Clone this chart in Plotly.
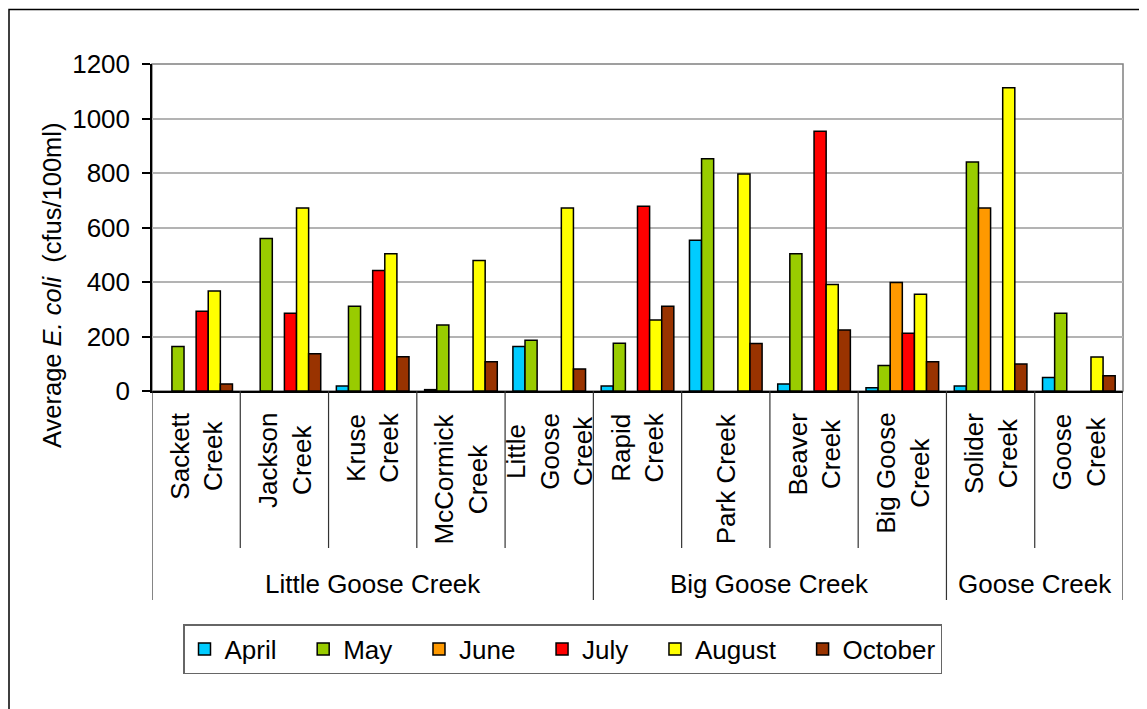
import plotly.graph_objects as go

categories = ["Sackett Creek", "Jackson Creek", "Kruse Creek", "McCormick Creek",
              "Little Goose Creek", "Rapid Creek", "Park Creek", "Beaver Creek",
              "Big Goose Creek", "Solider Creek", "Goose Creek"]
cat_labels = ["Sackett<br>Creek", "Jackson<br>Creek", "Kruse<br>Creek", "McCormick<br>Creek",
              "Little<br>Goose<br>Creek", "Rapid<br>Creek", "Park Creek", "Beaver<br>Creek",
              "Big Goose<br>Creek", "Solider<br>Creek", "Goose<br>Creek"]
groups = ["Little Goose Creek", "Big Goose Creek", "Goose Creek"]
group_sizes = [5, 4, 2]

months = ["April", "May", "June", "July", "August", "October"]
april   = [None, None, 18, 5, 163, 18, 553, 26, 12, 18, 50]
may     = [163, 560, 311, 242, 186, 175, 852, 504, 94, 840, 285]
june    = [None, None, None, None, None, None, None, None, 398, 672, None]
july    = [293, 285, 442, None, None, 678, None, 953, 212, None, None]
august  = [367, 672, 504, 479, 672, 261, 796, 391, 355, 1113, 125]
october = [26, 137, 126, 107, 81, 311, 174, 224, 107, 99, 56]
series = [april, may, june, july, august, october]
colors = ["#00CCFF", "#99CC00", "#FF9900", "#FF0000", "#FFFF00", "#993300"]

y_ticks = [0, 200, 400, 600, 800, 1000, 1200]

FONT = "Liberation Sans, Arial, sans-serif"
OFF = 8  # page body margin
W, H = 1147 - OFF, 709 - OFF
# plot area in page pixels: x 152..1123, y 64..391
L, T = 152 - OFF, 64 - OFF
R = W - (1123 - OFF)
B = H - (391 - OFF)
PW, PH = W - L - R, H - T - B


def px_x(p):
    return (p - OFF - L) / PW


def px_y(p):
    return (H - B - (p - OFF)) / PH


fig = go.Figure()
pad = "\u00a0\u00a0\u00a0"
for i, (m, vals, c) in enumerate(zip(months, series, colors)):
    fig.add_trace(go.Bar(
        x=categories, y=vals, name=m + (pad if i < len(months) - 1 else ""),
        marker=dict(color=c, line=dict(color="black", width=1.5)),
    ))

shapes = []
# outer chart border
shapes.append(dict(type="rect", xref="paper", yref="paper",
                   x0=px_x(9), x1=px_x(1160), y0=px_y(720), y1=px_y(9.5),
                   line=dict(color="black", width=1.5), layer="below"))
# plot area border
shapes.append(dict(type="rect", xref="paper", yref="paper", x0=0, x1=1, y0=0, y1=1,
                   line=dict(color="#808080", width=1.5), layer="below"))
# separators
group_edges = [-0.5]
acc = -0.5
for s in group_sizes:
    acc += s
    group_edges.append(acc)
for k in range(len(categories) + 1):
    xe = k - 0.5
    y1 = px_y(600) if xe in group_edges else px_y(548)
    shapes.append(dict(type="line", xref="x", yref="paper", x0=xe, x1=xe, y0=0, y1=y1,
                       line=dict(color="#333333", width=1.2)))

annotations = []
for c, lab in zip(categories, cat_labels):
    annotations.append(dict(x=c, xref="x", y=px_y(411), yref="paper", text=lab,
                            showarrow=False, textangle=-90, xanchor="center", yanchor="top",
                            align="center", font=dict(size=26, color="black", family=FONT)))
start = 0
for g, s in zip(groups, group_sizes):
    center = start + (s - 1) / 2
    annotations.append(dict(x=center, xref="x", y=px_y(584), yref="paper", text=g,
                            showarrow=False, xanchor="center", yanchor="middle",
                            font=dict(size=26, color="black", family=FONT)))
    start += s
annotations.append(dict(x=px_x(52), xref="paper", y=px_y(285), yref="paper",
                        text="Average <i>E. coli</i>  (cfus/100ml)", showarrow=False,
                        textangle=-90, xanchor="center", yanchor="middle",
                        font=dict(size=25.5, color="black", family=FONT)))

fig.update_layout(
    width=W, height=H,
    margin=dict(l=L, r=R, t=T, b=B, pad=0),
    paper_bgcolor="white", plot_bgcolor="white",
    barmode="group", bargap=0.177, bargroupgap=0,
    font=dict(family=FONT, size=26, color="black"),
    showlegend=True,
    legend=dict(orientation="h", x=px_x(183), y=px_y(624), xanchor="left", yanchor="top",
                bordercolor="#666666", borderwidth=1.5, bgcolor="white",
                font=dict(size=26, family=FONT, color="black"), traceorder="normal"),
    shapes=shapes, annotations=annotations,
    hovermode=False,
)
fig.update_xaxes(range=[-0.5, len(categories) - 0.5], showticklabels=False, ticks="",
                 showline=True, linecolor="black", linewidth=1.5, showgrid=False,
                 fixedrange=True)
fig.update_yaxes(range=[0, 1200], tickvals=y_ticks, ticks="outside", ticklen=8,
                 tickcolor="black", tickwidth=1.5, showline=True, linecolor="black",
                 linewidth=1.5, showgrid=True, gridcolor="#b3b3b3", gridwidth=1.5,
                 zeroline=False, tickfont=dict(size=26, family=FONT, color="black"),
                 ticklabelstandoff=7, fixedrange=True)

fig.write_html("out.html")
